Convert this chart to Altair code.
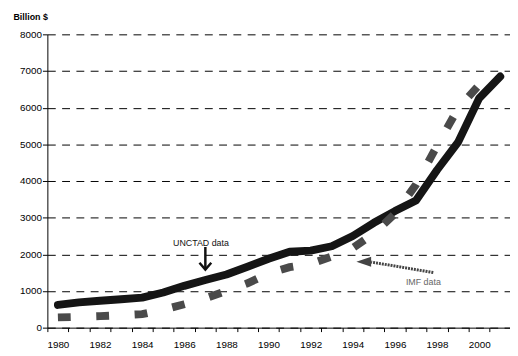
import altair as alt
import pandas as pd

# ---- data ----
years = list(range(1980, 2002))
unctad = [620, 690, 735, 775, 820, 960, 1140, 1300, 1450, 1660, 1880, 2070,
          2100, 2220, 2500, 2860, 3180, 3470, 4300, 5060, 6260, 6850]

imf_years = list(range(1980, 2001))
imf = [280, 295, 315, 340, 370, 490, 640, 800, 1000, 1210, 1480, 1650,
       1740, 1940, 2170, 2570, 3110, 3900, 4960, 5980, 6620]

# annotation texts and anchor points (data coordinates)
label_texts = ["UNCTAD data", "IMF data"]
label_years = [1986.79, 1997.35]
label_values = [2228, 1154]
label_colors = ["#111111", "#666666"]

# UNCTAD arrow (vertical, pointing down)
unctad_arrow_years = [1987.0]
unctad_arrow_from = [2200]
unctad_arrow_to = [1600]
unctad_head_value = [1584]

# IMF arrow (dotted, pointing left)
imf_arrow_from_year = [1997.82]
imf_arrow_from_value = [1503]
imf_arrow_to_year = [1994.87]
imf_arrow_to_value = [1790]
imf_head_year = [1994.17]
imf_head_value = [1799]

y_ticks = list(range(0, 8001, 1000))
x_tick_positions = [1979.5 + i for i in range(23)]
x_label_years = list(range(1980, 2001, 2))

FONT = "Liberation Sans"
W, H = 470, 298
X_DOMAIN = [1979.5, 1979.5 + W / 21.4]

x_axis = alt.Axis(
    values=x_tick_positions + x_label_years,
    labelExpr="(datum.value % 2 === 0) ? ('' + datum.value) : ''",
    tickOpacity={"condition": {"test": "datum.value % 1 === 0", "value": 0}, "value": 1},
    tickSize=4, tickColor="black", tickWidth=1,
    domainColor="black", domainWidth=1,
    labelFont=FONT, labelFontSize=10, labelColor="black", labelPadding=8,
    labelOverlap=False, labelFlush=False, labelBound=False,
    grid=False, title=None,
)
y_axis = alt.Axis(
    values=y_ticks, format="d",
    tickSize=5, tickColor="black", tickWidth=1,
    domainColor="black", domainWidth=1,
    labelFont=FONT, labelFontSize=10, labelColor="black", labelPadding=1,
    grid=True, gridColor="black", gridDash=[8, 6.5], gridWidth=1,
    title="Billion $", titleFont=FONT, titleFontSize=9, titleFontWeight="bold",
    titleColor="black", titleAngle=0, titleAlign="left", titleBaseline="alphabetic",
    titleX=-35, titleY=-15.5,
)
xs = alt.Scale(domain=X_DOMAIN, nice=False, zero=False)
ys = alt.Scale(domain=[0, 8000], nice=False, zero=False)


def X(f):
    return alt.X(f, type="quantitative", scale=xs, axis=x_axis)


def Y(f):
    return alt.Y(f, type="quantitative", scale=ys, axis=y_axis)


unctad_df = pd.DataFrame({"year": years, "value": unctad})
imf_df = pd.DataFrame({"year": imf_years, "value": imf})
labels_df = pd.DataFrame({"year": label_years, "value": label_values,
                          "text": label_texts, "color": label_colors})
ua_df = pd.DataFrame({"year": unctad_arrow_years, "value": unctad_arrow_from,
                      "value2": unctad_arrow_to, "head": unctad_head_value})
ia_df = pd.DataFrame({"year": imf_arrow_from_year, "value": imf_arrow_from_value,
                      "year2": imf_arrow_to_year, "value2": imf_arrow_to_value})
ih_df = pd.DataFrame({"year": imf_head_year, "value": imf_head_value})

unctad_line = alt.Chart(unctad_df).mark_line(
    color="#151515", strokeWidth=8, strokeCap="round", strokeJoin="round"
).encode(x=X("year"), y=Y("value"))

imf_line = alt.Chart(imf_df).mark_line(
    color="#4a4a4a", strokeWidth=8, strokeDash=[13, 26], strokeCap="butt"
).encode(x=X("year"), y=Y("value"))

texts = alt.Chart(labels_df).mark_text(
    font=FONT, fontSize=9, align="center", baseline="alphabetic"
).encode(x=X("year"), y=Y("value"), text="text:N",
         color=alt.Color("color:N", scale=None))

ua_shaft = alt.Chart(ua_df).mark_rule(color="#111111", strokeWidth=2.5).encode(
    x=X("year"), y=Y("value"), y2="value2")
ua_head = alt.Chart(ua_df).mark_point(
    shape="M-1,-1.15L0,0L1,-1.15", filled=False, stroke="#111111",
    strokeWidth=2.5, size=144, opacity=1
).encode(x=X("year"), y=Y("head"))

ia_shaft = alt.Chart(ia_df).mark_rule(
    color="#444444", strokeWidth=3, strokeDash=[2, 1]
).encode(x=X("year"), x2="year2", y=Y("value"), y2="value2")
ia_head = alt.Chart(ih_df).mark_point(
    shape="M0,0L2,-0.67L2,0.67Z", filled=True, fill="#444444", stroke=None,
    size=225, opacity=1
).encode(x=X("year"), y=Y("value"))

chart = alt.layer(
    unctad_line, imf_line, ua_shaft, ua_head, ia_shaft, ia_head, texts
).properties(
    width=W, height=H,
    padding={"left": 40, "top": 24, "right": 0, "bottom": 24},
    autosize=alt.AutoSizeParams(type="none"),
    background="white",
).configure_view(stroke=None)

chart.save("out.html", embed_options={"renderer": "svg", "actions": False})
